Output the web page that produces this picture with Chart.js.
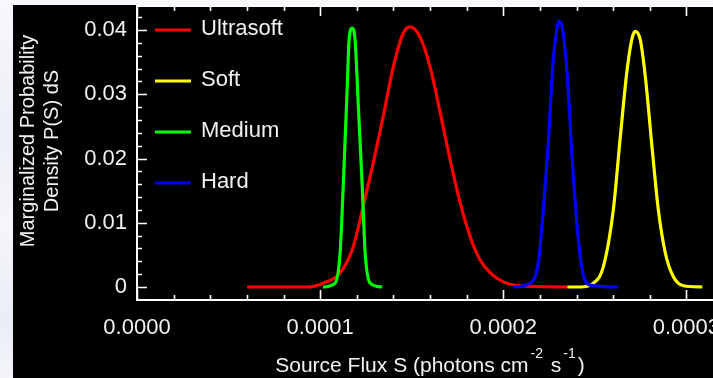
<!DOCTYPE html>
<html>
<head>
<meta charset="utf-8">
<script src="https://cdn.jsdelivr.net/npm/chart.js@4"></script>
<style>
  html, body { margin: 0; padding: 0; overflow: hidden; }
  body {
    width: 713px; height: 378px;
    background: linear-gradient(180deg, #f7f8fb 0%, #eceff6 35%, #f5f6fa 60%, #e9edf5 85%, #f3f5f9 100%);
    position: relative;
  }
  #panel {
    position: absolute; left: 13px; top: 5px;
    width: 730px; height: 373px;
    background: #000;
  }
</style>
</head>
<body>
<div id="panel"><canvas id="fluxChart"></canvas></div>
<script>
// marginalized flux posteriors, one curve per band
const bandNames = ['Ultrasoft', 'Soft', 'Medium', 'Hard'];
const bandColors = ['#ff0000', '#ffff00', '#00ff00', '#0000ff'];

const ultrasoftFlux = [0.601e-4, 0.929e-4, 1.016e-4, 1.109e-4, 1.180e-4, 1.235e-4, 1.290e-4, 1.344e-4, 1.399e-4, 1.454e-4, 1.492e-4,
  1.546e-4, 1.601e-4, 1.656e-4, 1.710e-4, 1.765e-4, 1.820e-4, 1.874e-4, 1.929e-4, 2.000e-4, 2.093e-4, 2.350e-4];
const ultrasoftDensity = [0, 0, 0.0006, 0.0022, 0.0062, 0.0125, 0.0193, 0.0265, 0.0342, 0.0395, 0.0405,
  0.0389, 0.0342, 0.0271, 0.0198, 0.0131, 0.0078, 0.0042, 0.0022, 0.0008, 0.0002, 0];

const softFlux = [2.350e-4, 2.421e-4, 2.492e-4, 2.546e-4, 2.601e-4, 2.639e-4, 2.678e-4, 2.705e-4, 2.721e-4,
  2.749e-4, 2.776e-4, 2.814e-4, 2.847e-4, 2.885e-4, 2.929e-4, 2.984e-4, 3.087e-4];
const softDensity = [0, 0, 0.0006, 0.0031, 0.0120, 0.0233, 0.0342, 0.0389, 0.0398,
  0.0384, 0.0327, 0.0213, 0.0120, 0.0053, 0.0016, 0.0002, 0];

const mediumFlux = [1.016e-4, 1.082e-4, 1.109e-4, 1.126e-4, 1.148e-4, 1.158e-4, 1.175e-4,
  1.191e-4, 1.208e-4, 1.230e-4, 1.246e-4, 1.273e-4, 1.339e-4];
const mediumDensity = [0, 0.0006, 0.0053, 0.0156, 0.0311, 0.0384, 0.0403,
  0.0384, 0.0286, 0.0156, 0.0053, 0.0006, 0];

const hardFlux = [2.055e-4, 2.148e-4, 2.191e-4, 2.219e-4, 2.246e-4, 2.273e-4, 2.295e-4, 2.306e-4,
  2.322e-4, 2.350e-4, 2.377e-4, 2.404e-4, 2.432e-4, 2.475e-4, 2.628e-4];
const hardDensity = [0, 0.0006, 0.0037, 0.0120, 0.0224, 0.0353, 0.0405, 0.0414,
  0.0405, 0.0327, 0.0198, 0.0093, 0.0026, 0.0003, 0];

const xTickValues = [0, 0.0001, 0.0002, 0.0003];
const xTickLabels = ['0.0000', '0.0001', '0.0002', '0.0003'];
const yTickValues = [0, 0.01, 0.02, 0.03, 0.04];
const yTickLabels = ['0', '0.01', '0.02', '0.03', '0.04'];

const FONT = '"Liberation Sans", Arial, Helvetica, sans-serif';
const INK = '#f2f2f2';

function pts(xs, ys) {
  return xs.map((x, i) => ({ x: x, y: ys[i] }));
}

const series = [
  pts(ultrasoftFlux, ultrasoftDensity),
  pts(softFlux, softDensity),
  pts(mediumFlux, mediumDensity),
  pts(hardFlux, hardDensity)
];
// red at the back, blue on top
const drawOrder = [4, 3, 2, 1];

// box, in-pointing ticks, legend and axis titles
const framePlugin = {
  id: 'frame',
  afterDraw(chart) {
    const ctx = chart.ctx;
    const a = chart.chartArea;
    const xs = chart.scales.x, ys = chart.scales.y;
    ctx.save();
    ctx.strokeStyle = '#ffffff';
    ctx.lineWidth = 2;
    ctx.strokeRect(a.left, a.top, a.right - a.left, a.bottom - a.top);

    ctx.lineWidth = 1.6;
    ctx.beginPath();
    for (let i = 0; i * 0.00002 <= xs.max + 1e-12; i++) {
      const px = Math.round(xs.getPixelForValue(i * 0.00002)) + 0.5;
      const len = i % 5 === 0 ? 10 : 5;
      ctx.moveTo(px, a.bottom); ctx.lineTo(px, a.bottom - len);
      ctx.moveTo(px, a.top); ctx.lineTo(px, a.top + len);
    }
    for (let i = 0; i * 0.002 <= ys.max + 1e-12; i++) {
      const py = Math.round(ys.getPixelForValue(i * 0.002)) + 0.5;
      const len = i % 5 === 0 ? 10 : 5;
      ctx.moveTo(a.left, py); ctx.lineTo(a.left + len, py);
      ctx.moveTo(a.right, py); ctx.lineTo(a.right - len, py);
    }
    ctx.stroke();

    // legend inside the plot
    ctx.font = '22px ' + FONT;
    ctx.textBaseline = 'middle';
    ctx.textAlign = 'left';
    chart.data.datasets.forEach((ds, i) => {
      const y = 25 + i * 51;
      ctx.strokeStyle = ds.borderColor;
      ctx.lineWidth = 3;
      ctx.beginPath();
      ctx.moveTo(142, y); ctx.lineTo(178, y);
      ctx.stroke();
      ctx.fillStyle = INK;
      ctx.fillText(ds.label, 188, y - 1);
    });

    // y title, two rotated lines
    ctx.fillStyle = INK;
    ctx.font = '20px ' + FONT;
    ctx.textAlign = 'center';
    ctx.textBaseline = 'alphabetic';
    [['Marginalized Probability', 21], ['Density P(S) dS', 45]].forEach(([t, x]) => {
      ctx.save();
      ctx.translate(x, 136);
      ctx.rotate(-Math.PI / 2);
      ctx.fillText(t, 0, 0);
      ctx.restore();
    });

    // x title with superscripts
    const parts = [['Source Flux S (photons cm', 0], ['-2', 1], [' s', 0], ['-1', 1], [')', 0]];
    const big = '21px ' + FONT, small = '14px ' + FONT;
    let w = 0;
    parts.forEach(([t, sup]) => { ctx.font = sup ? small : big; w += ctx.measureText(t).width + (sup ? 4 : 0); });
    let x = (a.left + a.right) / 2 - w / 2;
    ctx.textAlign = 'left';
    parts.forEach(([t, sup]) => {
      ctx.font = sup ? small : big;
      if (sup) x += 2;
      ctx.fillText(t, x, sup ? 353 : 367);
      x += ctx.measureText(t).width + (sup ? 2 : 0);
    });
    ctx.restore();
  }
};

new Chart(document.getElementById('fluxChart'), {
  type: 'line',
  data: {
    datasets: bandNames.map((name, i) => ({
      label: name,
      data: series[i],
      borderColor: bandColors[i],
      backgroundColor: bandColors[i],
      borderWidth: 3.2,
      pointRadius: 0,
      fill: false,
      cubicInterpolationMode: 'monotone',
      order: drawOrder[i]
    }))
  },
  options: {
    responsive: true,
    maintainAspectRatio: false,
    animation: false,
    layout: { padding: { top: 1, right: 20, left: 0, bottom: 0 } },
    plugins: {
      legend: { display: false },
      tooltip: { enabled: false },
      title: { display: false }
    },
    scales: {
      x: {
        type: 'linear',
        min: 0,
        max: 0.00032,
        grid: { display: false, drawTicks: false },
        border: { display: false },
        afterBuildTicks: (s) => { s.ticks = xTickValues.map(v => ({ value: v })); },
        afterFit: (s) => { s.height = 78; s.paddingLeft = 0; s.paddingRight = 0; },
        ticks: {
          color: INK,
          font: { size: 22, family: FONT },
          padding: 15,
          maxRotation: 0,
          callback: (v) => xTickLabels[xTickValues.indexOf(v)]
        }
      },
      y: {
        min: -0.00202,
        max: 0.04374,
        grid: { display: false, drawTicks: false },
        border: { display: false },
        afterBuildTicks: (s) => { s.ticks = yTickValues.map(v => ({ value: v })); },
        afterFit: (s) => { s.width = 124; s.paddingTop = 0; s.paddingBottom = 0; },
        ticks: {
          color: INK,
          font: { size: 22, family: FONT },
          padding: 10,
          callback: (v) => yTickLabels[yTickValues.indexOf(v)]
        }
      }
    }
  },
  plugins: [framePlugin]
});
</script>
</body>
</html>
